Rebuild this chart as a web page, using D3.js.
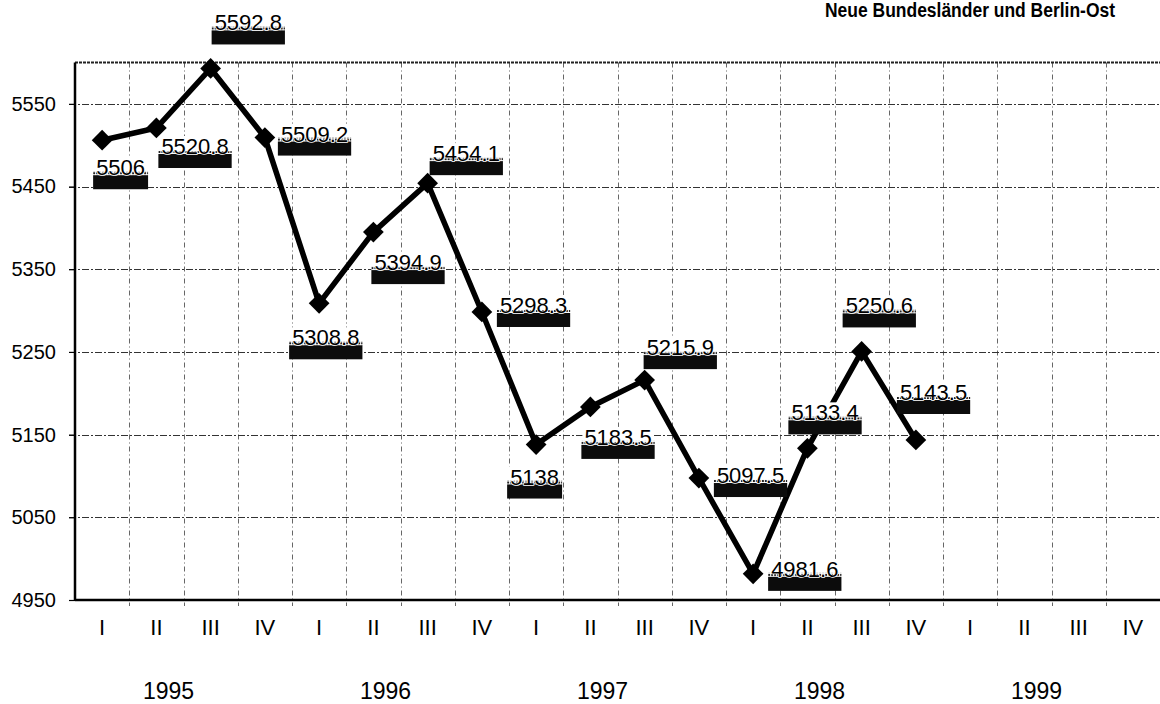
<!DOCTYPE html>
<html>
<head>
<meta charset="utf-8">
<script src="https://cdn.jsdelivr.net/npm/d3@7"></script>
<style>
  body { margin: 0; background: #fff; }
  text { font-family: "Liberation Sans", Arial, sans-serif; }
</style>
</head>
<body>
<div id="chart"></div>
<script>
const quarters = ['I', 'II', 'III', 'IV'];
const years = ['1995', '1996', '1997', '1998', '1999'];
const employed = [5506, 5520.8, 5592.8, 5509.2, 5308.8, 5394.9, 5454.1, 5298.3,
    5138, 5183.5, 5215.9, 5097.5, 4981.6, 5133.4, 5250.6, 5143.5];
const yTicks = [4950, 5050, 5150, 5250, 5350, 5450, 5550];
const title = 'Neue Bundesländer und Berlin-Ost';

// where each value label sits relative to its point (layout only)
const labelOffsets = [[-6, 35], [5, 26], [4, -38], [16, 4], [-27, 42], [1, 38], [5, -22], [18, 1],
    [-26, 40], [-6, 38], [2, -25], [18, 5], [18, 3], [-16, -28], [-16, -38], [-16, -40]];

const width = 1160;
const height = 704;
const margin = { top: 62.5, right: 0, bottom: 104, left: 75 };

const slots = years.flatMap(yr => quarters.map(q => yr + ' ' + q));
const data = employed.map((v, i) => ({ key: slots[i], value: v, off: labelOffsets[i] }));

const svg = d3.select('#chart')
    .append('svg')
    .attr('width', width)
    .attr('height', height);

const defs = svg.append('defs');
const pat = defs.append('pattern')
    .attr('id', 'fringe')
    .attr('width', 3).attr('height', 3)
    .attr('patternUnits', 'userSpaceOnUse');
pat.append('rect').attr('width', 3).attr('height', 3).attr('fill', '#fff');
pat.append('rect').attr('width', 2).attr('height', 2).attr('fill', '#222');

const xScale = d3.scaleBand()
    .domain(slots)
    .range([margin.left, width - margin.right]);

const yearScale = d3.scaleBand()
    .domain(years)
    .range([margin.left, width - margin.right]);

const yScale = d3.scaleLinear()
    .domain([4950, 5600])
    .range([height - margin.bottom, margin.top]);

const x0 = margin.left;
const x1 = width - margin.right;
const yBottom = yScale(4950);

// grid
const bounds = slots.slice(1).map(s => xScale(s));
svg.append('g')
    .selectAll('line')
    .data(bounds)
    .join('line')
    .attr('x1', d => Math.round(d) + 0.5)
    .attr('x2', d => Math.round(d) + 0.5)
    .attr('y1', margin.top)
    .attr('y2', yBottom + 6)
    .attr('stroke', '#666')
    .attr('stroke-width', 1)
    .attr('stroke-dasharray', '5,3,1,3');

svg.append('g')
    .selectAll('line')
    .data(yTicks.slice(1))
    .join('line')
    .attr('x1', x0 - 6)
    .attr('x2', x1)
    .attr('y1', d => Math.round(yScale(d)) + 0.5)
    .attr('y2', d => Math.round(yScale(d)) + 0.5)
    .attr('stroke', '#333')
    .attr('stroke-width', 1.2)
    .attr('stroke-dasharray', '7,2,2,2');

// top border
svg.append('line')
    .attr('x1', x0).attr('x2', x1)
    .attr('y1', margin.top).attr('y2', margin.top)
    .attr('stroke', '#222')
    .attr('stroke-width', 2)
    .attr('stroke-dasharray', '3,1');

// y axis
const yAxis = svg.append('g')
    .attr('transform', `translate(${x0}, 0)`)
    .call(d3.axisLeft(yScale).tickValues(yTicks).tickSize(6).tickPadding(13).tickFormat(d3.format('d')));
yAxis.select('.domain')
    .attr('d', `M0,${margin.top}V${yBottom}`)
    .attr('stroke', '#000')
    .attr('stroke-width', 2.5);
yAxis.selectAll('.tick line').attr('stroke', '#000').attr('stroke-width', 1.2);
yAxis.selectAll('.tick text')
    .attr('font-size', 20)
    .attr('fill', '#000');

// x axis with quarter labels
const xAxis = svg.append('g')
    .attr('transform', `translate(0, ${yBottom})`)
    .call(d3.axisBottom(xScale).tickSize(0).tickPadding(19).tickFormat(d => d.split(' ')[1]));
xAxis.select('.domain')
    .attr('d', `M${x0},0H${x1}`)
    .attr('stroke', '#000')
    .attr('stroke-width', 2.5);
xAxis.selectAll('.tick text')
    .attr('font-size', 22)
    .attr('fill', '#000');

// year labels
svg.append('g')
    .selectAll('text')
    .data(years)
    .join('text')
    .attr('x', d => yearScale(d) + yearScale.bandwidth() / 2 - 15)
    .attr('y', 699)
    .attr('text-anchor', 'middle')
    .attr('font-size', 23)
    .text(d => d);

// title
svg.append('text')
    .attr('x', 825)
    .attr('y', 17)
    .attr('font-size', 20)
    .attr('font-weight', 'bold')
    .attr('textLength', 290)
    .attr('lengthAdjust', 'spacingAndGlyphs')
    .text(title);

// series line
const line = d3.line()
    .x(d => xScale(d.key) + xScale.bandwidth() / 2)
    .y(d => yScale(d.value));

svg.append('path')
    .datum(data)
    .attr('d', line)
    .attr('fill', 'none')
    .attr('stroke', '#000')
    .attr('stroke-width', 5.5)
    .attr('stroke-linejoin', 'miter');

svg.append('g')
    .selectAll('path')
    .data(data)
    .join('path')
    .attr('d', d3.symbol().type(d3.symbolSquare).size(215))
    .attr('transform', d => `translate(${xScale(d.key) + xScale.bandwidth() / 2}, ${yScale(d.value)}) rotate(45)`)
    .attr('fill', '#000');

// value labels
const labels = svg.append('g')
    .selectAll('g')
    .data(data)
    .join('g')
    .attr('transform', d => `translate(${xScale(d.key) + xScale.bandwidth() / 2 + d.off[0]}, ${yScale(d.value) + d.off[1]})`);

labels.each(function (d) {
    const g = d3.select(this);
    const bg = g.append('rect');
    const fringe = g.append('rect');
    const bar = g.append('rect');
    const t = g.append('text')
        .attr('font-size', 22)
        .attr('fill', '#000')
        .attr('stroke', '#fff')
        .attr('stroke-width', 1.5)
        .attr('paint-order', 'stroke')
        .text(String(d.value));
    const w = t.node().getComputedTextLength();
    bg.attr('x', -2).attr('y', -18).attr('width', w + 4).attr('height', 18).attr('fill', '#fff');
    fringe.attr('x', -3).attr('y', -4).attr('width', w + 6).attr('height', 4).attr('fill', 'url(#fringe)');
    bar.attr('x', -3).attr('y', 0).attr('width', w + 6).attr('height', 14).attr('fill', '#0c0c0c');
});
</script>
</body>
</html>
